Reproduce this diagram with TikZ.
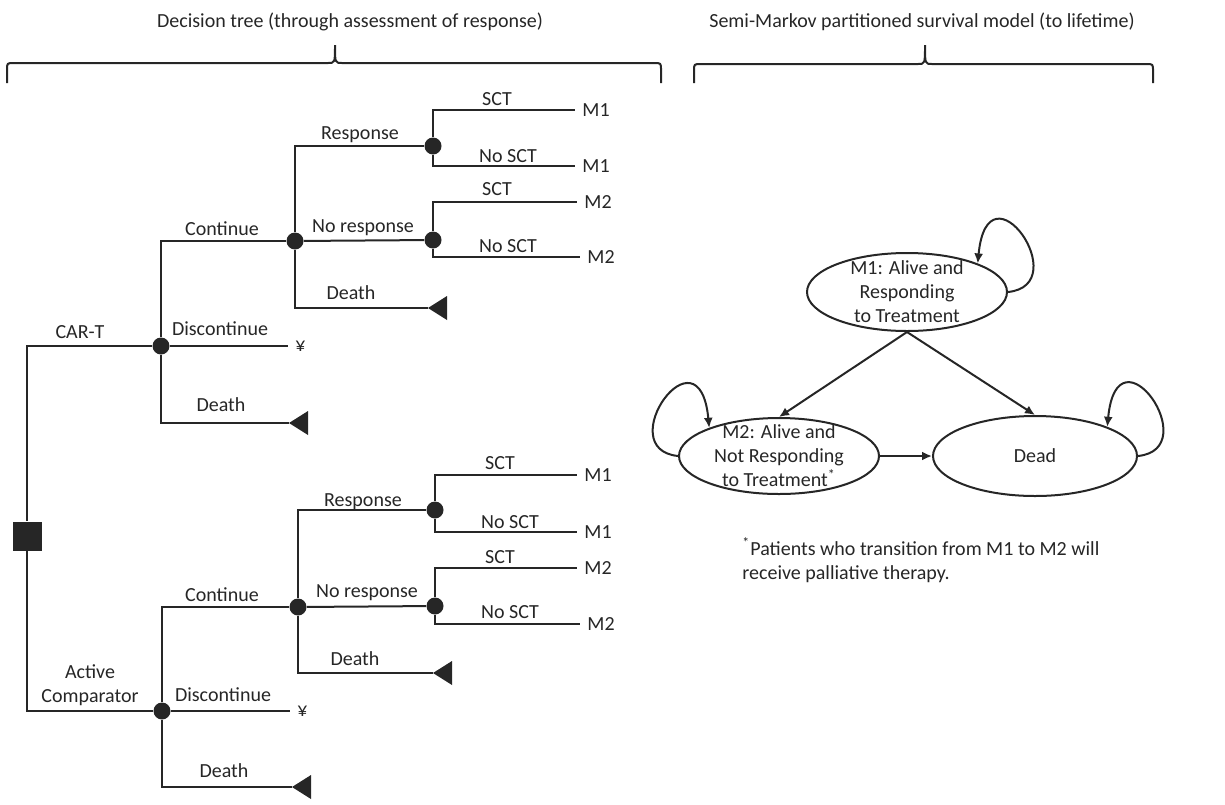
\documentclass[tikz,border=0pt]{standalone}
\usepackage{fontspec}
\setmainfont{Carlito}
\usetikzlibrary{shapes.geometric,arrows.meta}
\definecolor{ink}{HTML}{262626}
\begin{document}
\begin{tikzpicture}[x=0.5pt,y=-0.5pt,
  line/.style={draw=ink, line width=1pt},
  chance/.style={circle, fill=ink, minimum size=8.5pt, inner sep=0},
  decision/.style={rectangle, fill=ink, minimum size=14.5pt, inner sep=0},
  lbl/.style={font=\fontsize{10}{12}\selectfont, text=ink, inner sep=0},
  leaf/.style={lbl, anchor=west, inner sep=3.5pt},
  state/.style={ellipse, draw=ink, line width=1pt, inner sep=0},
  arr/.style={line, -{Latex[length=5pt,width=4.5pt]}}]
\useasboundingbox (0,0) rectangle (1225,804);

% titles and braces
\node[lbl] (title1) at (350,22) {Decision tree (through assessment of response)};
\node[lbl] (title2) at (922,22) {Semi-Markov partitioned survival model (to lifetime)};
\draw[line] (7,83) -- (7,70) .. controls (7,63) .. (14,63) -- (328,63) .. controls (335,63) .. (335,45) .. controls (335,63) .. (342,63) -- (654,63) .. controls (661,63) .. (661,70) -- (661,83);
\draw[line] (694,83) -- (694,71) .. controls (694,64) .. (701,64) -- (918,64) .. controls (925,64) .. (925,45) .. controls (925,64) .. (932,64) -- (1146,64) .. controls (1153,64) .. (1153,71) -- (1153,83);

% decision node
\node[decision] (R) at (27,536) {};

% ---------- upper tree (CAR-T) ----------
\node[chance] (c1) at (161,346) {};
\node[chance] (c2) at (295,241) {};
\node[chance] (c3) at (433,146) {};
\node[chance] (c4) at (433,240) {};
\draw[line] (c1) -| (R);
\draw[line] (c1) |- (c2);
\draw[line] (c2) |- (c3);
\draw[line] (c2) -- (c4);
\node[leaf] (y1) at (288,346) {¥};
\draw[line] (c1) -- (y1.west);
\coordinate (t1) at (289,423);
\draw[line] (c1) |- (t1);
\fill[ink] (t1) -- ++(19,-12) -- ++(0,24) -- cycle;
\coordinate (t2) at (428,308);
\draw[line] (c2) |- (t2);
\fill[ink] (t2) -- ++(19,-12) -- ++(0,24) -- cycle;
\node[leaf] (u1) at (575,110) {M1};
\node[leaf] (u2) at (575,166) {M1};
\node[leaf] (u3) at (577,202) {M2};
\node[leaf] (u4) at (580,257) {M2};
\draw[line] (c3) |- (u1.west);
\draw[line] (c3) |- (u2.west);
\draw[line] (c4) |- (u3.west);
\draw[line] (c4) |- (u4.west);
\node[lbl] (a1) at (80,332) {CAR-T};
\node[lbl] (a2) at (222,229) {Continue};
\node[lbl] (a3) at (220,329) {Discontinue};
\node[lbl] (a4) at (221,405) {Death};
\node[lbl] (a5) at (360,135) {Response};
\node[lbl] (a6) at (363,228) {No response};
\node[lbl] (a7) at (351,293) {Death};
\node[lbl] (a8) at (497,99) {SCT};
\node[lbl] (a9) at (508,156) {No SCT};
\node[lbl] (a10) at (497,189) {SCT};
\node[lbl] (a11) at (508,246) {No SCT};

% ---------- lower tree (Active Comparator) ----------
\node[chance] (c5) at (162,711) {};
\node[chance] (c6) at (298,607) {};
\node[chance] (c7) at (435,510) {};
\node[chance] (c8) at (435,606) {};
\draw[line] (c5) -| (R);
\draw[line] (c5) |- (c6);
\draw[line] (c6) |- (c7);
\draw[line] (c6) -- (c8);
\node[leaf] (y2) at (290,711) {¥};
\draw[line] (c5) -- (y2.west);
\coordinate (t3) at (292,787);
\draw[line] (c5) |- (t3);
\fill[ink] (t3) -- ++(19,-12) -- ++(0,24) -- cycle;
\coordinate (t4) at (433,673);
\draw[line] (c6) |- (t4);
\fill[ink] (t4) -- ++(19,-12) -- ++(0,24) -- cycle;
\node[leaf] (v1) at (577,475) {M1};
\node[leaf] (v2) at (577,532) {M1};
\node[leaf] (v3) at (577,568) {M2};
\node[leaf] (v4) at (580,624) {M2};
\draw[line] (c7) |- (v1.west);
\draw[line] (c7) |- (v2.west);
\draw[line] (c8) |- (v3.west);
\draw[line] (c8) |- (v4.west);
\node[lbl, align=center] (b1) at (90,685) {Active\\Comparator};
\node[lbl] (b2) at (222,595) {Continue};
\node[lbl] (b3) at (223,695) {Discontinue};
\node[lbl] (b4) at (224,771) {Death};
\node[lbl] (b5) at (363,502) {Response};
\node[lbl] (b6) at (367,593) {No response};
\node[lbl] (b7) at (355,659) {Death};
\node[lbl] (b8) at (500,463) {SCT};
\node[lbl] (b9) at (510,522) {No SCT};
\node[lbl] (b10) at (500,557) {SCT};
\node[lbl] (b11) at (510,612) {No SCT};

% ---------- Markov model ----------
\node[state, minimum width=100pt, minimum height=39pt] (m1) at (907,292) {};
\node[lbl, align=center] (m1t) at (m1) {M1: Alive and\\Responding\\to Treatment};
\node[state, minimum width=100pt, minimum height=38pt] (m2) at (779,456) {};
\node[lbl, align=center] (m2t) at (m2) {M2: Alive and\\Not Responding\\to Treatment\textsuperscript{*}};
\node[state, minimum width=102pt, minimum height=40pt] (dead) at (1035,456) {};
\node[lbl] (deadt) at (dead) {Dead};
\draw[arr] (m1.south) -- (m2.north);
\draw[arr] (m1.south) -- (dead.north);
\draw[arr] (m2.east) -- (dead.west);
\draw[arr] (m1.east) .. controls +(68,-7) and +(10,-105) .. (m1.22);
\draw[arr] (m2.west) .. controls +(-68,-7) and +(-10,-105) .. (m2.158);
\draw[arr] (dead.east) .. controls +(68,-7) and +(10,-105) .. (dead.22);

\node[lbl, align=left, anchor=west] (fn) at (742,560) {\textsuperscript{*}Patients who transition from M1 to M2 will\\receive palliative therapy.};
\end{tikzpicture}
\end{document}
